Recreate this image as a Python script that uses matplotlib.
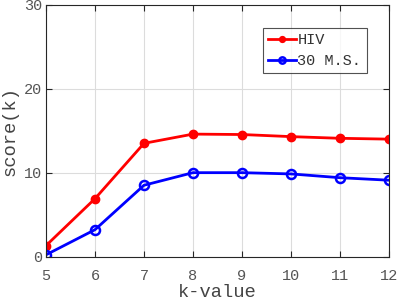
import matplotlib.pyplot as plt

k_values = [5, 6, 7, 8, 9, 10, 11, 12]
hiv_scores = [1.3, 6.9, 13.5, 14.6, 14.55, 14.3, 14.1, 14.0]
ms_scores = [0.2, 3.2, 8.5, 10.0, 10.0, 9.85, 9.4, 9.1]
y_ticks = [0, 10, 20, 30]

plt.rcParams['font.family'] = ['Liberation Mono', 'DejaVu Sans Mono']

fig = plt.figure(figsize=(4.01, 3.05), dpi=100)
ax = fig.add_axes([46 / 401, 1 - 256.5 / 305, 343 / 401, 251.5 / 305])

ax.plot(k_values, hiv_scores, color='red', linewidth=2, marker='o',
        markersize=6, label='HIV')
ax.plot(k_values, ms_scores, color='blue', linewidth=2, marker='o',
        markersize=6.5, markerfacecolor='none', markeredgewidth=1.8,
        label='30 M.S.')

ax.set_xlim(5, 12)
ax.set_ylim(0, 30)
ax.set_xticks(k_values)
ax.set_yticks(y_ticks)
ax.grid(True, color='#dcdcdc', linewidth=0.8)
ax.set_axisbelow(True)

ax.tick_params(direction='in', top=True, right=True, length=4,
               labelsize=11, colors='#262626', labelcolor='#555555')
ax.tick_params(axis='x', pad=9)
ax.tick_params(axis='y', pad=3)
for side in ['top', 'right', 'bottom', 'left']:
    ax.spines[side].set_color('#262626')
    ax.spines[side].set_linewidth(0.8)

ax.set_xlabel('k-value', fontsize=13.5, color='#444444', labelpad=1)
ax.set_ylabel('score(k)', fontsize=13.5, color='#444444', labelpad=4)

leg = ax.legend(loc='upper left', bbox_to_anchor=(0.633, 0.91), fontsize=11,
                frameon=True, fancybox=False, borderpad=0.35,
                borderaxespad=0, handlelength=1.8, handletextpad=0.1,
                labelspacing=0.45, markerscale=0.7)
leg.get_frame().set_edgecolor('#262626')
leg.get_frame().set_linewidth(0.8)
for text in leg.get_texts():
    text.set_color('#333333')

fig.savefig('out.png', dpi=100)
